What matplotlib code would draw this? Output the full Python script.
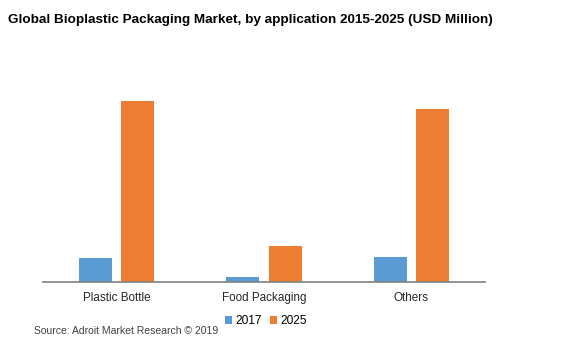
import matplotlib.pyplot as plt
import numpy as np

plt.rcParams['font.family'] = ['Liberation Sans', 'DejaVu Sans']

# market size by application (USD million, approx.)
categories = ["Plastic Bottle", "Food Packaging", "Others"]
years = ["2017", "2025"]
values_2017 = [24.3, 5.3, 25.3]
values_2025 = [181, 36, 173]
colors = ["#5B9BD5", "#ED7D31"]

fig = plt.figure(figsize=(5.64, 3.45), dpi=100)
ax = fig.add_axes([43 / 564, 63 / 345, 442 / 564, 230 / 345])

x = np.arange(len(categories))
w = 0.224
off = 0.143
ax.bar(x - off, values_2017, w, color=colors[0], label=years[0])
ax.bar(x + off, values_2025, w, color=colors[1], label=years[1])

ax.set_xlim(-0.5, 2.5)
ax.set_ylim(0, 230)
ax.set_xticks(x)
ax.set_xticklabels(categories, fontsize=8.4, color="#262626")
ax.tick_params(axis="x", length=0, pad=7)
ax.set_yticks([])
for s in ["top", "right", "left"]:
    ax.spines[s].set_visible(False)
ax.spines["bottom"].set_color("#808080")
ax.spines["bottom"].set_linewidth(1.2)

fig.text(8 / 564, 1 - 20 / 345, "Global Bioplastic Packaging Market, by application 2015-2025 (USD Million)",
         fontsize=9.7, fontweight="bold", va="center", ha="left")

fig.legend(loc="center", bbox_to_anchor=(266 / 564, 1 - 321 / 345), ncol=2, frameon=False,
           fontsize=8.6, handlelength=0.6, handleheight=0.6, handletextpad=0.3, columnspacing=0.6)

fig.text(34 / 564, 1 - 331 / 345, "Source: Adroit Market Research \u00a9 2019",
         fontsize=7.5, color="#404040", va="center", ha="left")

fig.savefig("out.png", dpi=100)
